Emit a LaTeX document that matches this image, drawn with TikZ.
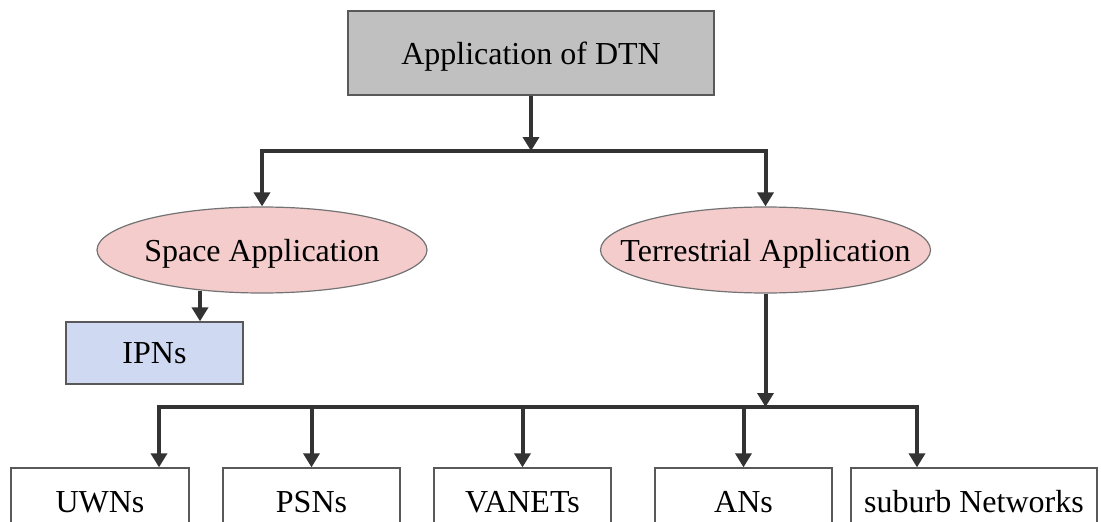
\documentclass[tikz,border=0pt]{standalone}
\usepackage{fontspec}
\setmainfont{Liberation Serif}
\usetikzlibrary{arrows.meta,shapes.geometric,positioning}
\definecolor{topgray}{HTML}{C0C0C0}
\definecolor{apppink}{HTML}{F4CCCC}
\definecolor{ipnblue}{HTML}{D0D9F2}
\definecolor{linkgray}{HTML}{333333}

\begin{document}
\begin{tikzpicture}[x=1pt,y=-1pt,
        txt/.style={font=\fontsize{32}{38}\selectfont},
        box/.style={txt, draw=black!65, line width=1.3pt, inner sep=0pt, minimum height=68pt},
        app/.style={txt, ellipse, draw=black!55, fill=apppink, line width=1.2pt, inner sep=0pt,
                    text depth=0pt, minimum width=330pt, minimum height=86pt},
        link/.style={line width=4pt, draw=linkgray, line cap=rect},
        arr/.style={line width=4pt, draw=linkgray, -{Triangle[width=16pt,length=14pt]}}]
            \useasboundingbox (0,0) rectangle (1101,522);
            \clip (0,0) rectangle (1101,522);

            \node[box, fill=topgray, text depth=0pt, minimum width=366pt, minimum height=84pt] (dtn) at (531,53) {Application of DTN};

            \node[app] (space) at (262,250) {\makebox[0pt]{Space Application}};
            \node[app] (terr) at (765.5,250) {\makebox[0pt]{Terrestrial Application}};

            \node[box, fill=ipnblue, minimum width=177pt, minimum height=62pt] (ipn) at (154.5,353) {IPNs};

            \node[box, minimum width=178pt] (uwn) at (100,502) {UWNs};
            \node[box, minimum width=177pt] (psn) at (311.5,502) {PSNs};
            \node[box, minimum width=177pt] (vanet) at (522.5,502) {VANETs};
            \node[box, minimum width=177pt] (an) at (743.5,502) {ANs};
            \node[box, minimum width=246pt] (suburb) at (974,502) {suburb Networks};

            % first level
            \coordinate (topbus) at (531,151);
            \draw[arr] (dtn.south) -- (topbus);
            \draw[link] (space.north |- topbus) -- (terr.north |- topbus);
            \draw[arr] (space.north |- topbus) -- (space.north);
            \draw[arr] (terr.north |- topbus) -- (terr.north);

            % space branch
            \coordinate (spacefoot) at ([xshift=-62pt,yshift=3pt]space.south);
            \draw[arr] (spacefoot) -- (spacefoot |- ipn.north);

            % terrestrial branch
            \coordinate (busL) at (159,407);
            \coordinate (busR) at (917,407);
            \draw[arr] (terr.south) -- (terr.south |- busL);
            \draw[link] (busL) -- (busR);
            \draw[arr] (busL) -- (busL |- uwn.north);
            \draw[arr] (psn.north |- busL) -- (psn.north);
            \draw[arr] (vanet.north |- busL) -- (vanet.north);
            \draw[arr] (an.north |- busL) -- (an.north);
            \draw[arr] (busR) -- (busR |- suburb.north);
        \end{tikzpicture}
\end{document}
